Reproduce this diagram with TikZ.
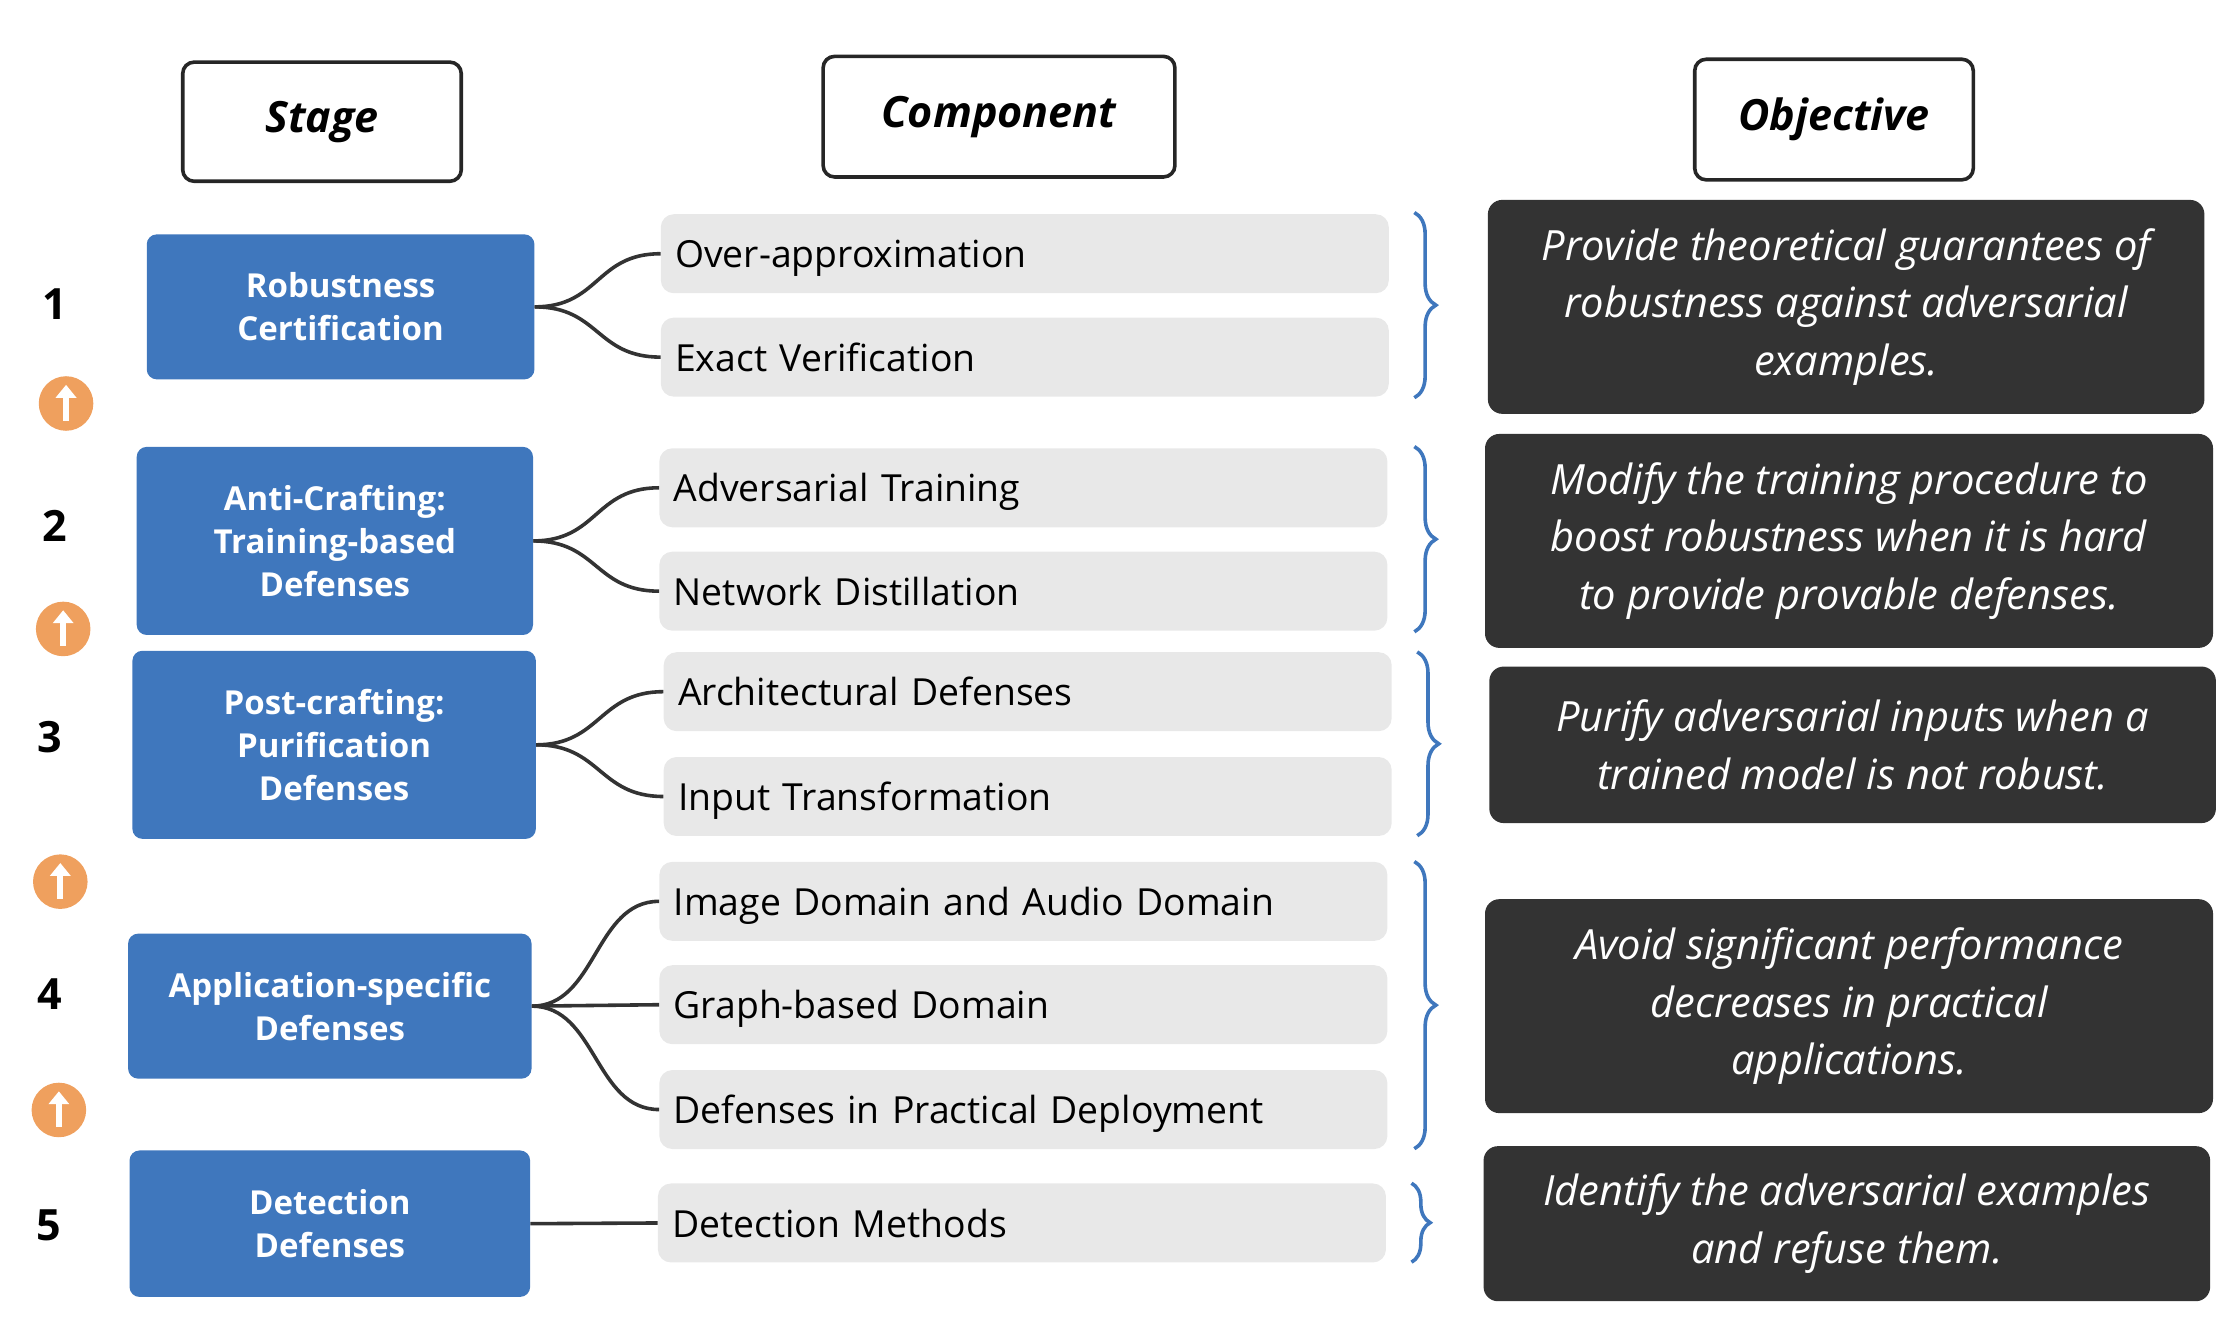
\documentclass[tikz,border=0pt]{standalone}
\usepackage{fontspec}
\setmainfont{Open Sans}
\usetikzlibrary{decorations.pathreplacing,arrows.meta}
\definecolor{sblue}{HTML}{3F77BD}
\definecolor{cgray}{HTML}{E8E8E8}
\definecolor{odark}{HTML}{333333}
\definecolor{aorange}{HTML}{EFA05E}
\begin{document}
\begin{tikzpicture}[x=1pt,y=-1pt,
 hdr/.style={draw=black!85,line width=2.5pt,rounded corners=8pt,font=\fontsize{30}{36}\selectfont\bfseries\itshape,anchor=north west,inner sep=0pt},
 stage/.style={fill=sblue,rounded corners=7pt,text=white,font=\fontsize{23}{30}\selectfont\bfseries,align=center,anchor=north west,inner sep=0pt},
 comp/.style={fill=cgray,rounded corners=9pt,font=\fontsize{26}{30}\selectfont,anchor=north west,inner sep=0pt,text width=490pt,align=left,minimum height=55pt,text depth=0pt},
 obj/.style={fill=odark,rounded corners=10pt,text=white,font=\fontsize{29}{40}\selectfont\itshape,align=center,anchor=north west,inner sep=0pt},
 num/.style={font=\fontsize{30}{36}\selectfont\bfseries},
 link/.style={draw=black!80,line width=2.5pt},
 br/.style={draw=sblue,line width=2.5pt,decorate,decoration={brace,amplitude=15pt}},
 arr/.style={circle,fill=aorange,minimum size=38pt,inner sep=0pt}]
\useasboundingbox (0,0) rectangle (1560,922);
\node[hdr,minimum width=194pt,minimum height=83pt] (h1) at (126,42) {Stage};
\node[hdr,minimum width=245pt,minimum height=84pt] (h2) at (572,38) {Component};
\node[hdr,minimum width=194pt,minimum height=84pt] (h3) at (1179,40) {Objective};
% stages
\node[stage,minimum width=270pt,minimum height=101pt] (s1) at (102,163) {Robustness\\Certification};
\node[stage,minimum width=276pt,minimum height=131pt] (s2) at (95,311) {Anti-Crafting:\\Training-based\\Defenses};
\node[stage,minimum width=281pt,minimum height=131pt] (s3) at (92,453) {Post-crafting:\\Purification\\Defenses};
\node[stage,minimum width=281pt,minimum height=101pt] (s4) at (89,650) {Application-specific\\Defenses};
\node[stage,minimum width=279pt,minimum height=102pt] (s5) at (90,801) {Detection\\Defenses};
\node[num] (n1) at (38,212) {1};
\node[num] (n2) at (38,366) {2};
\node[num] (n3) at (35,513) {3};
\node[num] (n4) at (35,692) {4};
\node[num] (n5) at (34,853) {5};
\foreach \n/\x/\y in {a1/46/281,a2/44/438,a3/42/614,a4/41/773}{
 \node[arr] (\n) at (\x,\y) {};
 \draw[white,line width=4pt,-{Triangle[width=14pt,length=9pt]}] ([yshift=-12pt]\n.center) -- ([yshift=13pt]\n.center);
}
% components
\node[comp,text width=507pt] (c1) at (460,149) {\hspace{10pt}Over-approximation};
\node[comp,text width=507pt] (c2) at (460,221) {\hspace{10pt}Exact Verification};
\node[comp,text width=507pt] (c3) at (459,312) {\hspace{10pt}Adversarial Training};
\node[comp,text width=507pt] (c4) at (459,384) {\hspace{10pt}Network Distillation};
\node[comp,text width=507pt] (c5) at (462,454) {\hspace{10pt}Architectural Defenses};
\node[comp,text width=507pt] (c6) at (462,527) {\hspace{10pt}Input Transformation};
\node[comp,text width=507pt] (c7) at (459,600) {\hspace{10pt}Image Domain and Audio Domain};
\node[comp,text width=507pt] (c8) at (459,672) {\hspace{10pt}Graph-based Domain};
\node[comp,text width=507pt] (c9) at (459,745) {\hspace{10pt}Defenses in Practical Deployment};
\node[comp,text width=507pt] (c10) at (458,824) {\hspace{10pt}Detection Methods};
% links
\foreach \s/\c in {s1/c1,s1/c2,s2/c3,s2/c4,s3/c5,s3/c6,s4/c7,s4/c9}
 \draw[link] (\s.east) .. controls +(45,0) and +(-45,0) .. (\c.west);
\draw[link] (s4.east) -- (c8.west);
\draw[link] (s5.east) -- (c10.west);
% braces
\draw[br] (985,148) -- (985,277);
\draw[br] (985,311) -- (985,440);
\draw[br] (987,454) -- (987,582);
\draw[br] (985,600) -- (985,800);
\draw[br,decoration={brace,amplitude=13pt}] (983,824) -- (983,879);
% objectives
\node[obj,minimum width=499pt,minimum height=149pt] (o1) at (1036,139) {Provide theoretical guarantees of\\robustness against adversarial\\examples.};
\node[obj,minimum width=507pt,minimum height=149pt] (o2) at (1034,302) {Modify the training procedure to\\boost robustness when it is hard\\to provide provable defenses.};
\node[obj,minimum width=506pt,minimum height=109pt] (o3) at (1037,464) {Purify adversarial inputs when a\\trained model is not robust.};
\node[obj,minimum width=507pt,minimum height=149pt] (o4) at (1034,626) {Avoid significant performance\\decreases in practical\\applications.};
\node[obj,minimum width=506pt,minimum height=108pt] (o5) at (1033,798) {Identify the adversarial examples\\and refuse them.};
\end{tikzpicture}
\end{document}
